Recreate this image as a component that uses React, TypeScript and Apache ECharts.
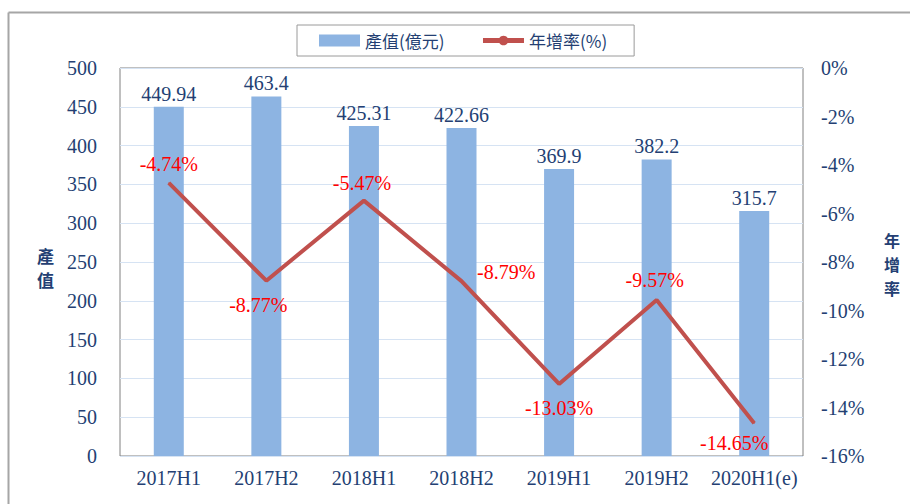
import React, { useEffect, useRef } from "react";
import * as echarts from "echarts";

const categories = ["2017H1", "2017H2", "2018H1", "2018H2", "2019H1", "2019H2", "2020H1(e)"];
const outputValues = [449.94, 463.4, 425.31, 422.66, 369.9, 382.2, 315.7];
const growthValues = [-4.74, -8.77, -5.47, -8.79, -13.03, -9.57, -14.65];
const growthLabelPositions = ["top", "bottom", "top", "right", "bottom", "top", "bottom"];
const growthLabelOffsets = [[0, -3], [-8, 9], [-2, -2], [10, -9], [0, 9], [-2, -5], [-20, 4]];

const TEXT = "#243F73";
const SERIF = "'Liberation Serif', 'Times New Roman', serif";
const CJK = "'Noto Sans CJK TC', 'Liberation Serif', serif";

export default function App() {
  const ref = useRef<HTMLDivElement>(null);
  useEffect(() => {
    if (!ref.current) return;
    const chart = echarts.init(ref.current, null, { renderer: "svg" });
    const lineLabel = {
      show: true,
      fontFamily: SERIF,
      fontSize: 20,
      color: "#FF0000",
      formatter: (p: any) => `${Number(p.value).toFixed(2)}%`,
    };
    chart.setOption({
      animation: false,
      backgroundColor: "#ffffff",
      textStyle: { fontFamily: SERIF },
      grid: {
        left: 120,
        right: 107,
        top: 68,
        bottom: 48,
        show: true,
        borderColor: "#808080",
        borderWidth: 1,
      },
      legend: {
        left: 297,
        top: 25,
        height: 32,
        padding: [7, 27, 7, 22],
        borderColor: "#9a9a9a",
        borderWidth: 1,
        itemGap: 36,
        itemWidth: 41,
        itemHeight: 12,
        lineStyle: { width: 5 },
        textStyle: { fontFamily: CJK, fontSize: 17, color: TEXT },
        data: [
          { name: "產值(億元)", icon: "rect" },
          { name: "年增率(%)" },
        ],
      },
      xAxis: {
        type: "category",
        data: categories,
        axisLine: { show: false },
        axisTick: { show: false },
        axisLabel: { interval: 0, fontFamily: SERIF, fontSize: 20, color: TEXT, margin: 12 },
      },
      yAxis: [
        {
          type: "value",
          min: 0,
          max: 500,
          interval: 50,
          axisLine: { show: false },
          axisTick: { show: false },
          splitLine: { lineStyle: { color: "#D6E3F3", width: 1 } },
          axisLabel: { fontFamily: SERIF, fontSize: 20, color: TEXT, margin: 23 },
        },
        {
          type: "value",
          min: -16,
          max: 0,
          interval: 2,
          axisLine: { show: false },
          axisTick: { show: false },
          splitLine: { show: false },
          axisLabel: {
            fontFamily: SERIF,
            fontSize: 20,
            color: TEXT,
            margin: 18,
            formatter: (v: number) => `${v}%`,
          },
        },
      ],
      series: [
        {
          name: "產值(億元)",
          type: "bar",
          data: outputValues,
          barWidth: 30,
          itemStyle: { color: "#8DB4E2" },
          label: {
            show: true,
            position: "top",
            distance: 3,
            fontFamily: SERIF,
            fontSize: 20,
            color: TEXT,
          },
        },
        {
          name: "年增率(%)",
          type: "line",
          yAxisIndex: 1,
          data: growthValues.map((v, i) => ({
            value: v,
            label: {
              ...lineLabel,
              position: growthLabelPositions[i],
              offset: growthLabelOffsets[i],
            },
          })),
          symbol: "circle",
          symbolSize: 1,
          showSymbol: true,
          lineStyle: { color: "#C0504D", width: 4 },
          itemStyle: { color: "#C0504D" },
          label: lineLabel,
        },
      ],
      graphic: [
        { type: "line", shape: { x1: 8.5, y1: 12.5, x2: 910, y2: 12.5 }, style: { stroke: "#a6a6a6", lineWidth: 2 } },
        { type: "line", shape: { x1: 8.5, y1: 12.5, x2: 8.5, y2: 504 }, style: { stroke: "#a6a6a6", lineWidth: 2 } },
        {
          type: "text",
          left: 37,
          top: 243,
          style: { text: "產\n值", font: `bold 17px ${CJK}`, fill: TEXT, lineHeight: 24 },
        },
        {
          type: "text",
          left: 884,
          top: 228,
          style: { text: "年\n增\n率", font: `bold 16px ${CJK}`, fill: TEXT, lineHeight: 24 },
        },
      ],
    });
    return () => chart.dispose();
  }, []);
  return (
    <div
      ref={ref}
      style={{ position: "fixed", left: 0, top: 0, width: 910, height: 504 }}
    />
  );
}
